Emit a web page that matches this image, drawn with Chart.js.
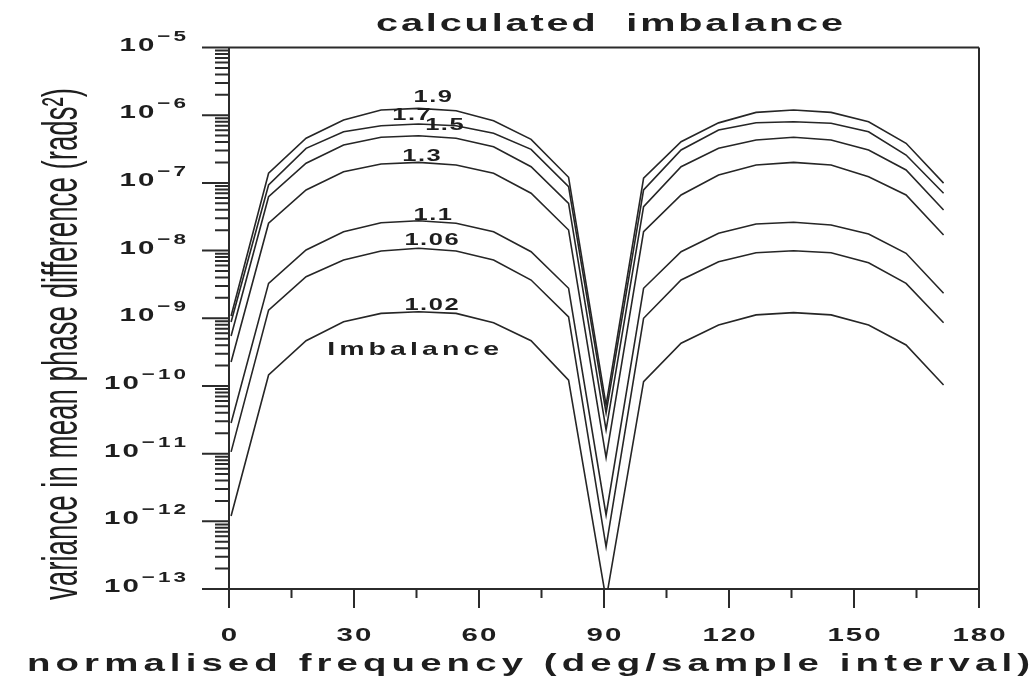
<!DOCTYPE html>
<html>
<head>
<meta charset="utf-8">
<script src="https://cdn.jsdelivr.net/npm/chart.js@4.4.1/dist/chart.umd.min.js"></script>
<style>
  html, body { margin: 0; padding: 0; background: #fff; }
</style>
</head>
<body>
<canvas id="imbChart" width="1035" height="682"></canvas>
<script>
// normalised frequency of each computed point (deg/sample interval)
const freqDeg = [0.5, 9.5, 18.5, 27.5, 36.5, 45.5, 54.5, 63.5, 72.5, 81.5,
                 90.5, 99.5, 108.5, 117.5, 126.5, 135.5, 144.5, 153.5, 162.5, 171.5];

const imbalances = ['1.9', '1.7', '1.5', '1.3', '1.1', '1.06', '1.02'];

// variance in mean phase difference (rads^2), one array per imbalance
const var190 = [1.08e-9, 1.39e-7, 4.56e-7, 8.5e-7, 1.19e-6, 1.26e-6, 1.16e-6, 8.3e-7, 4.4e-7, 1.21e-7,
                5.2e-11, 1.17e-7, 4.06e-7, 7.7e-7, 1.10e-6, 1.19e-6, 1.10e-6, 8.0e-7, 3.84e-7, 9.9e-8];
const var170 = [8.8e-10, 9.3e-8, 3.24e-7, 5.7e-7, 6.99e-7, 7.41e-7, 6.99e-7, 5.4e-7, 3.13e-7, 8.78e-8,
                4.0e-11, 7.85e-8, 3.06e-7, 6.04e-7, 7.74e-7, 8.01e-7, 7.59e-7, 5.7e-7, 2.58e-7, 7.02e-8];
const var150 = [5.47e-10, 6.25e-8, 1.95e-7, 3.63e-7, 4.71e-7, 4.98e-7, 4.56e-7, 3.42e-7, 1.73e-7, 4.99e-8,
                2.24e-11, 4.45e-8, 1.73e-7, 3.24e-7, 4.3e-7, 4.71e-7, 4.3e-7, 3.06e-7, 1.55e-7, 3.97e-8];
const var130 = [2.26e-10, 2.53e-8, 7.85e-8, 1.46e-7, 1.9e-7, 2.01e-7, 1.84e-7, 1.385e-7, 7.02e-8, 2.01e-8,
                8.7e-12, 1.9e-8, 6.62e-8, 1.31e-7, 1.84e-7, 2.01e-7, 1.84e-7, 1.23e-7, 6.62e-8, 1.7e-8];
const var110 = [2.84e-11, 3.28e-9, 1.02e-8, 1.9e-8, 2.58e-8, 2.76e-8, 2.53e-8, 1.9e-8, 9.62e-9, 2.77e-9,
                1.24e-12, 2.77e-9, 9.62e-9, 1.8e-8, 2.47e-8, 2.62e-8, 2.39e-8, 1.76e-8, 9.11e-9, 2.34e-9];
const var106 = [1.06e-11, 1.32e-9, 4.11e-9, 7.26e-9, 9.86e-9, 1.08e-8, 9.86e-9, 7.26e-9, 3.67e-9, 1.05e-9,
                4.2e-13, 9.99e-10, 3.67e-9, 6.85e-9, 9.3e-9, 9.96e-9, 9.3e-9, 6.62e-9, 3.28e-9, 8.6e-10];
const var102 = [1.2e-12, 1.45e-10, 4.66e-10, 8.9e-10, 1.18e-9, 1.25e-9, 1.18e-9, 8.6e-10, 4.66e-10, 1.22e-10,
                7e-14, 1.16e-10, 4.27e-10, 7.95e-10, 1.12e-9, 1.21e-9, 1.12e-9, 7.95e-10, 4.03e-10, 1.03e-10];

const xTicks = [0, 30, 60, 90, 120, 150, 180];
const yExponents = [-5, -6, -7, -8, -9, -10, -11, -12, -13];

const seriesList = [var190, var170, var150, var130, var110, var106, var102];

const INK = '#1e1e1e';
const FONT = '"Liberation Sans", Arial, sans-serif';

// draw text one glyph at a time, stretched horizontally and spaced out
function wideText(ctx, str, x, y, size, sx, gap, align) {
  ctx.font = 'bold ' + size + 'px ' + FONT;
  const chars = [...str];
  const widths = chars.map(ch => ctx.measureText(ch).width * sx);
  const total = widths.reduce((a, b) => a + b, 0) + gap * (chars.length - 1);
  let cx = align === 'center' ? x - total / 2 : align === 'right' ? x - total : x;
  ctx.textAlign = 'left';
  ctx.textBaseline = 'alphabetic';
  chars.forEach((ch, i) => {
    ctx.save();
    ctx.translate(cx, y);
    ctx.scale(sx, 1);
    ctx.fillText(ch, 0, 0);
    ctx.restore();
    cx += widths[i] + gap;
  });
  return total;
}

function textWidth(ctx, str, size, sx, gap) {
  ctx.font = 'bold ' + size + 'px ' + FONT;
  const chars = [...str];
  return chars.reduce((a, ch) => a + ctx.measureText(ch).width * sx, 0) + gap * (chars.length - 1);
}

// spread text evenly between x0 and x1
function fitText(ctx, str, x0, x1, y, size, sx) {
  const nat = textWidth(ctx, str, size, sx, 0);
  const gap = (x1 - x0 - nat) / ([...str].length - 1);
  wideText(ctx, str, x0, y, size, sx, gap, 'left');
}

const framePlugin = {
  id: 'frame',
  beforeDatasetsDraw(chart) {
    const ctx = chart.ctx;
    const xs = chart.scales.x, ys = chart.scales.y;
    const a = chart.chartArea;
    ctx.save();
    ctx.strokeStyle = '#2b2b2b';
    ctx.lineWidth = 2;
    ctx.beginPath();
    // box, with the axes running past the corners
    ctx.moveTo(a.left - 27, a.top); ctx.lineTo(a.right, a.top);
    ctx.moveTo(a.right, a.top); ctx.lineTo(a.right, a.bottom + 18);
    ctx.moveTo(a.left, a.top); ctx.lineTo(a.left, a.bottom + 19);
    ctx.moveTo(a.left - 26, a.bottom); ctx.lineTo(a.right, a.bottom);
    // x ticks
    for (let d = 0; d <= 180; d += 15) {
      const px = xs.getPixelForValue(d);
      ctx.moveTo(px, a.bottom);
      ctx.lineTo(px, a.bottom + (d % 30 === 0 ? 19 : 9));
    }
    // y ticks, decades long and 2..9 short
    for (let e = -13; e <= -5; e++) {
      const py = ys.getPixelForValue(Math.pow(10, e));
      ctx.moveTo(a.left - 27, py); ctx.lineTo(a.left, py);
      if (e < -5) {
        for (let m = 2; m <= 9; m++) {
          const pm = ys.getPixelForValue(m * Math.pow(10, e));
          ctx.moveTo(a.left - 14, pm); ctx.lineTo(a.left, pm);
        }
      }
    }
    ctx.stroke();
    ctx.restore();
  },
  afterDatasetsDraw(chart) {
    const ctx = chart.ctx;
    const xs = chart.scales.x, ys = chart.scales.y;
    const a = chart.chartArea;
    ctx.save();
    ctx.fillStyle = INK;

    // y tick labels: 10 with a raised exponent
    yExponents.forEach(e => {
      const py = ys.getPixelForValue(Math.pow(10, e));
      const sup = '\u2212' + String(-e);
      const supW = wideText(ctx, sup, 186, py - 7, 15, 1.5, 3, 'right');
      wideText(ctx, '10', 186 - supW - 3, py + 3, 19, 1.55, 2, 'right');
    });

    // x tick labels
    xTicks.forEach(d => {
      wideText(ctx, String(d), xs.getPixelForValue(d), a.bottom + 52, 19, 1.55, 2, 'center');
    });

    // curve labels sit just above each curve's 45.5 deg point
    const liftPx = [6, 4, 6, 1.5, 1, 3, 2];
    const labelDeg = [48.9, 43.8, 51.7, 46.2, 48.9, 48.6, 48.6];
    imbalances.forEach((lab, i) => {
      const py = ys.getPixelForValue(seriesList[i][5]) - liftPx[i];
      wideText(ctx, lab, xs.getPixelForValue(labelDeg[i]), py, 17, 1.5, 1.5, 'center');
    });
    const imbX = xs.getPixelForValue(44.2);
    fitText(ctx, 'Imbalance', imbX - 86, imbX + 86, ys.getPixelForValue(var102[5]) + 43, 19, 1.5);

    // titles
    fitText(ctx, 'calculated  imbalance', 376, 843, 31, 24, 1.65);
    fitText(ctx, 'normalised frequency (deg/sample interval)', 27, 1030, 671, 24, 1.6);

    // rotated, condensed y title
    ctx.save();
    ctx.translate(77, 600);
    ctx.rotate(-Math.PI / 2);
    ctx.font = '50px "Liberation Sans Narrow", "Liberation Sans", sans-serif';
    const title = 'variance in mean phase difference (rads\u00B2)';
    const w = ctx.measureText(title).width;
    ctx.scale(512 / w, 1);
    ctx.textAlign = 'left';
    ctx.textBaseline = 'alphabetic';
    ctx.fillText(title, 0, 0);
    ctx.restore();

    ctx.restore();
  }
};

const datasets = seriesList.map((vals, i) => ({
  label: imbalances[i],
  data: freqDeg.map((f, j) => ({ x: f, y: vals[j] })),
  borderColor: '#262626',
  borderWidth: 1.6,
  pointRadius: 0,
  tension: 0,
  fill: false
}));

new Chart(document.getElementById('imbChart').getContext('2d'), {
  type: 'line',
  data: { datasets: datasets },
  options: {
    responsive: false,
    animation: false,
    layout: { padding: { left: 229, top: 47.5, right: 56, bottom: 93 } },
    plugins: { legend: { display: false }, tooltip: { enabled: false } },
    scales: {
      x: { type: 'linear', min: 0, max: 180, display: false },
      y: { type: 'logarithmic', min: 1e-13, max: 1e-5, display: false }
    }
  },
  plugins: [framePlugin]
});
</script>
</body>
</html>
